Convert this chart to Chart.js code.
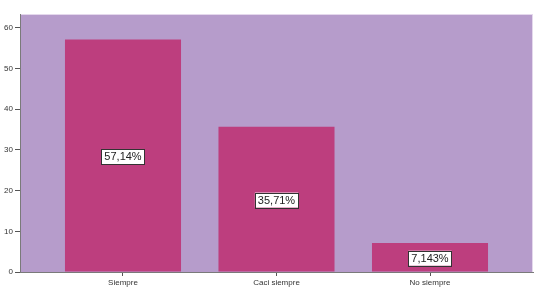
<!DOCTYPE html>
<html>
<head>
<meta charset="utf-8">
<script src="https://cdn.jsdelivr.net/npm/chart.js@4.4.1/dist/chart.umd.min.js"></script>
<style>
  html, body { margin: 0; padding: 0; background: #fff; }
  #wrap { width: 539px; height: 296px; }
</style>
</head>
<body>
<div id="wrap"><canvas id="bars"></canvas></div>
<script>
const categories = ['Siempre', 'Caci siempre', 'No siempre'];
const percents = [57.14, 35.71, 7.143];
const percentLabels = ['57,14%', '35,71%', '7,143%'];
const yTicks = [0, 10, 20, 30, 40, 50, 60];

// purple plot background
const plotBg = {
  id: 'plotBg',
  beforeDraw(chart) {
    const { ctx, chartArea: a } = chart;
    ctx.save();
    ctx.fillStyle = '#B69CCB';
    ctx.fillRect(a.left, a.top, a.right - a.left, a.bottom - a.top);
    ctx.strokeStyle = '#E4D8EC';
    ctx.lineWidth = 1;
    ctx.strokeRect(a.left + 0.5, a.top + 0.5, a.right - a.left - 1, a.bottom - a.top);
    ctx.restore();
  }
};

// boxed percent labels in the middle of each bar
const boxLabels = {
  id: 'boxLabels',
  afterDatasetsDraw(chart) {
    const { ctx } = chart;
    const meta = chart.getDatasetMeta(0);
    ctx.save();
    ctx.font = '11px "Liberation Sans", Arial, sans-serif';
    ctx.textAlign = 'center';
    ctx.textBaseline = 'middle';
    meta.data.forEach((bar, i) => {
      const txt = percentLabels[i];
      const cy = (bar.y + bar.base) / 2 + 1;
      const w = ctx.measureText(txt).width + 6;
      const h = 15;
      ctx.fillStyle = '#fff';
      ctx.fillRect(bar.x - w / 2, cy - h / 2, w, h);
      ctx.strokeStyle = '#333';
      ctx.lineWidth = 1;
      ctx.strokeRect(Math.round(bar.x - w / 2) + 0.5, Math.round(cy - h / 2) + 0.5, Math.round(w), h);
      ctx.fillStyle = '#222';
      ctx.fillText(txt, bar.x, cy + 0.5);
    });
    ctx.restore();
  }
};

new Chart(document.getElementById('bars'), {
  type: 'bar',
  data: {
    datasets: [{
      data: percents.map((v, i) => ({ x: i, y: v })),
      backgroundColor: '#BD3E7E',
      borderWidth: 0,
      barPercentage: 0.756,
      categoryPercentage: 1
    }]
  },
  options: {
    responsive: true,
    maintainAspectRatio: false,
    animation: false,
    layout: { padding: { left: 0, right: 6, top: 14, bottom: 0 } },
    plugins: { legend: { display: false }, tooltip: { enabled: false } },
    scales: {
      x: {
        type: 'linear',
        offset: false,
        min: -0.671,
        max: 2.671,
        afterBuildTicks: s => { s.ticks = categories.map((_, i) => ({ value: i })); },
        afterFit: s => { s.height = 24; },
        grid: { display: true, offset: false, drawOnChartArea: false, drawTicks: true, tickLength: 4, color: '#555' },
        border: { color: '#7A7A7A' },
        ticks: {
          callback: v => categories[v],
          font: { size: 8, family: '"Liberation Sans", Arial, sans-serif' },
          color: '#333',
          padding: 2,
          maxRotation: 0
        }
      },
      y: {
        min: 0,
        max: 63.4,
        afterBuildTicks: s => { s.ticks = yTicks.map(v => ({ value: v })); },
        afterFit: s => { s.width = 20; },
        grid: { display: true, drawOnChartArea: false, drawTicks: true, tickLength: 5, color: '#555' },
        border: { color: '#7A7A7A' },
        ticks: {
          font: { size: 8, family: '"Liberation Sans", Arial, sans-serif' },
          color: '#333',
          padding: 2
        }
      }
    }
  },
  plugins: [plotBg, boxLabels]
});
</script>
</body>
</html>
